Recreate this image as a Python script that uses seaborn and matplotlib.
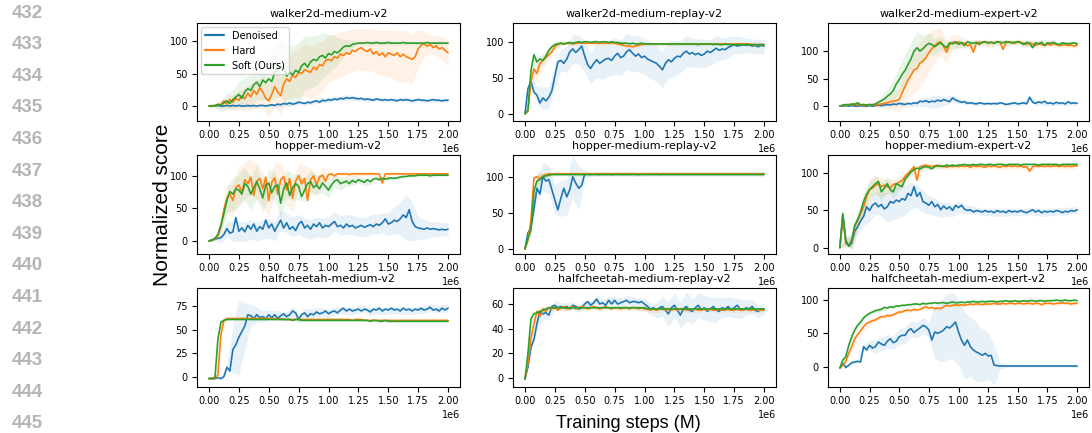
import numpy as np
import matplotlib
matplotlib.use("Agg")
import matplotlib.pyplot as plt
import seaborn as sns

# ---------------- data ----------------
TITLES = ["walker2d-medium-v2", "walker2d-medium-replay-v2", "walker2d-medium-expert-v2",
          "hopper-medium-v2", "hopper-medium-replay-v2", "hopper-medium-expert-v2",
          "halfcheetah-medium-v2", "halfcheetah-medium-replay-v2", "halfcheetah-medium-expert-v2"]
METHODS = ["Denoised", "Hard", "Soft (Ours)"]
LINE_NUMBERS = [432, 433, 434, 435, 436, 437, 438, 439, 440, 441, 442, 443, 444, 445]

# walker2d-medium
WM_DEN = [0,0,0,1,0,0,1,0,1,0,1,0,0,1,0,1,0,1,1,0,1,
          2,1,3,2,4,3,5,3,4,6,
          5,4,6,5,7,8,6,9,8,10,
          9,11,10,12,11,13,12,13,12,11,
          12,10,11,10,9,11,10,9,10,9,
          10,9,8,10,9,10,9,8,9,10,
          9,9,8,9,10,9,9,8,9,9]
WM_HARD = [0,1,0,3,2,8,3,10,6,12,9,16,11,20,14,24,18,28,22,12,8,
           18,30,22,16,34,42,38,48,44,52,
           50,56,54,52,60,56,64,62,70,72,
           70,76,74,80,78,82,80,86,84,88,
           90,86,84,88,80,84,78,82,76,82,
           80,78,82,76,80,76,74,72,76,88,
           94,96,92,95,90,93,88,90,86,82]
WM_SOFT = [0,0,1,2,1,5,8,4,10,14,18,12,22,27,24,33,37,30,40,36,42,
           38,52,58,60,59,46,52,48,55,52,
           62,66,60,68,72,70,76,78,74,81,
           79,84,82,86,91,93,92,95,96,97,
           97,97,98,97,97,98,97,97,97,98,
           97,97,97,97,98,97,97,97,97,97,
           97,97,98,97,97,97,97,97,97,97]
WM_DEN_SD = [1,1,1,1,1,1,1,2,2,2,2, 3,3,3,3,3,3,3,4,4,4, 4,4,4,4,3,3,3,3,3,3, 3,3,3,3,3,3,3,3,3,3]
WM_HARD_SD = [1,2,6,10,12,15,18,20,22,25,25, 28,30,32,35,38,40,40,40,38,36, 35,35,34,33,32,32,33,34,35,36, 38,40,40,38,30,20,15,15,18,20]
WM_SOFT_SD = [1,3,8,12,15,20,22,25,28,30,35, 40,45,48,45,45,42,40,38,35,30, 25,18,10,6,3,3,3,3,3,3, 3,3,3,3,3,3,3,3,3,3]

# walker2d-medium-replay
WR_DEN = [0,35,45,30,26,15,22,18,23,32,52,72,74,70,76,86,90,85,89,94,80,
          68,63,70,75,70,73,76,77,74,80,
          84,78,80,86,89,84,80,83,78,80,
          76,74,72,70,66,61,70,75,72,77,
          80,79,84,87,83,85,82,84,81,83,
          87,85,88,91,88,90,89,92,94,96,
          94,95,96,95,96,94,95,93,95,94]
WR_HARD = [0,3,45,62,56,70,74,78,82,86,93,96,98,97,98,98,97,98,98,98,98,
           98,98,98,98,98,98,98,98,98,98,
           97,96,95,94,94,93,94,95,96,97,
           97,97,97,97,97,97,97,97,97,97,
           97,97,97,97,97,97,97,97,97,97,
           97,97,97,97,97,97,97,97,97,97,
           97,97,97,97,97,96,96,96,96,96]
WR_SOFT = [0,5,60,82,72,76,74,80,88,93,96,97,98,97,98,99,98,99,100,99,100,
           100,99,100,100,99,100,100,99,100,99,
           99,98,98,98,97,98,97,97,98,97,
           97,97,97,97,97,97,97,97,97,97,
           97,97,97,97,97,97,97,96,97,97,
           97,97,96,97,96,96,97,96,96,96,
           96,96,96,96,96,96,96,96,96,96]
WR_DEN_SD = [0,10,12,15,15,15,15,18,20,20,22, 22,25,25,25,25,25,25,25,25,25, 25,25,25,25,25,22,22,20,20,20, 18,18,15,15,12,12,10,10,10,10]
WR_HARD_SD = [0,5,10,10,8,5,3,2,2,2,2, 2,2,2,2,2,2,2,2,2,2, 2,2,2,2,2,2,2,2,2,2, 2,2,2,2,2,2,2,2,2,2]
WR_SOFT_SD = [0,5,8,8,6,4,3,2,2,2,2, 2,2,2,2,2,2,2,2,2,2, 2,2,2,2,2,2,2,2,2,2, 2,2,2,2,2,2,2,2,2,2]

# walker2d-medium-expert
WE_DEN = [0,0,1,0,1,0,0,1,0,0,1,0,1,2,1,2,3,2,4,3,5,
          4,3,5,4,6,5,9,8,10,7,
          9,8,11,9,12,10,8,15,11,9,
          7,8,5,6,5,4,6,5,4,5,
          4,5,4,6,5,3,4,5,6,4,
          5,6,4,16,7,5,8,6,9,5,
          6,4,7,5,6,4,8,5,6,5]
WE_HARD = [0,1,2,3,2,4,2,3,1,2,2,3,2,3,4,5,6,8,9,10,12,
           24,36,48,56,66,68,78,82,88,97,
           104,110,115,117,108,98,112,116,114,117,
           113,115,110,112,98,114,116,115,117,114,
           116,115,117,116,103,115,117,116,114,117,
           116,114,112,115,113,110,114,112,110,113,
           111,113,112,110,111,112,110,111,109,111]
WE_SOFT = [0,2,3,2,4,3,6,2,3,2,3,2,4,7,10,13,18,22,28,40,48,
           58,65,76,86,100,106,100,104,110,114,
           112,108,112,115,110,106,115,113,117,112,
           116,110,117,115,114,116,112,116,117,115,
           116,114,117,116,115,117,116,115,116,117,
           115,112,116,114,106,115,113,116,110,115,
           114,116,113,112,115,114,113,114,115,113]
WE_DEN_SD = [1,1,1,1,1,1,2,3,3,4,4, 5,5,6,8,10,12,10,8,6,5, 4,4,3,3,3,3,3,3,3,3, 4,4,4,4,4,3,3,3,3,3]
WE_HARD_SD = [1,2,3,3,3,3,4,6,10,15,22, 30,35,40,40,35,30,25,20,15,12, 8,8,6,6,8,6,5,5,5,5, 6,6,6,6,6,5,5,5,5,5]
WE_SOFT_SD = [1,2,3,3,3,3,4,8,15,20,25, 30,30,30,25,20,15,12,10,8,6, 5,5,4,4,4,4,4,4,4,4, 5,5,5,5,5,4,4,4,4,4]

# hopper-medium
HM_DEN = [0,2,3,4,5,10,19,12,14,36,15,20,14,24,18,26,15,22,18,32,20,
          26,15,24,32,20,28,18,22,16,26,
          30,20,24,18,26,22,28,20,24,22,
          26,30,22,24,20,26,22,24,20,22,
          24,21,23,25,22,26,24,28,34,26,
          28,32,30,34,40,36,48,30,22,20,
          19,18,20,18,19,18,17,18,17,18]
HM_HARD = [0,1,3,8,22,48,66,72,62,82,86,74,94,88,98,70,92,96,80,98,62,
           90,97,72,94,99,78,96,66,92,100,
           88,96,62,94,100,86,98,101,92,102,
           103,100,103,103,103,103,102,103,103,103,
           103,103,103,103,103,103,103,89,103,103,
           103,103,103,103,103,103,103,103,103,103,
           103,103,103,103,103,103,103,103,103,103]
HM_SOFT = [0,1,4,10,24,42,62,76,72,80,78,72,88,84,72,82,91,80,66,86,89,
           74,84,86,58,80,89,70,82,88,84,
           68,78,88,91,82,86,80,89,84,78,
           86,92,94,88,90,92,88,93,90,94,
           92,90,94,91,95,96,94,96,95,96,
           97,96,97,98,99,99,100,100,100,101,
           101,101,101,100,101,101,101,101,101,101]
HM_DEN_SD = [0,3,8,12,15,15,15,15,15,15,15, 15,15,15,15,15,15,15,15,15,15, 15,15,15,15,15,15,15,15,15,18, 20,25,35,30,18,15,12,12,10,10]
HM_HARD_SD = [0,3,10,20,25,28,28,28,28,25,25, 25,25,22,22,20,20,18,15,12,8, 4,3,3,3,3,3,3,3,3,3, 2,2,2,2,2,2,2,2,2,2]
HM_SOFT_SD = [0,3,10,20,25,25,25,25,25,22,22, 22,22,22,20,20,18,18,15,15,12, 10,10,8,8,6,6,5,4,3,3, 3,3,2,2,2,2,2,2,2,2]

# hopper-medium-replay
HR_DEN = [0,22,30,55,84,76,100,94,96,82,68,54,70,84,72,82,100,91,84,88,104,
          104,103,104,104,103,104,104,104,103,104,
          104,104,103,104,104,104,104,103,104,104,
          104,104,104,104,103,104,104,104,104,104,
          104,104,104,104,104,104,104,104,104,104,
          104,104,104,104,104,104,104,104,104,104,
          104,104,104,104,104,104,104,104,104,104]
HR_HARD = [0,12,40,98,100,97,101,103,104,104,104,104,104,104,104,104,104,104,104,104,104,
           104,104,104,104,104,104,104,104,104,104,
           104,104,104,104,104,104,104,104,104,104,
           104,104,104,104,104,104,104,104,104,104,
           104,104,104,104,104,104,104,104,104,104,
           104,104,104,104,104,104,104,104,104,104,
           104,104,104,104,104,104,104,104,104,104]
HR_SOFT = [0,15,26,80,94,96,100,101,102,103,103,103,103,103,103,103,103,103,103,103,103,
           103,103,103,103,103,103,103,103,103,103,
           103,103,103,103,103,103,103,103,103,103,
           103,103,103,103,103,103,103,103,103,103,
           103,103,103,103,103,103,103,103,103,103,
           103,103,103,103,103,103,103,103,103,103,
           103,103,103,103,103,103,103,103,103,103]
HR_DEN_SD = [0,10,15,20,20,20,25,25,30,30,5, 3,3,3,3,3,3,3,3,3,3, 3,3,3,3,3,3,3,3,3,3, 3,3,3,3,3,3,3,3,3,3]
HR_HARD_SD = [0,10,8,4,2,2,2,2,2,2,2, 2,2,2,2,2,2,2,2,2,2, 2,2,2,2,2,2,2,2,2,2, 2,2,2,2,2,2,2,2,2,2]
HR_SOFT_SD = [0,8,10,5,3,2,2,2,2,2,2, 2,2,2,2,2,2,2,2,2,2, 2,2,2,2,2,2,2,2,2,2, 2,2,2,2,2,2,2,2,2,2]

# hopper-medium-expert
HE_DEN = [0,44,10,2,6,22,28,36,42,55,50,57,60,55,58,52,55,62,60,64,62,
          66,64,73,70,82,69,74,62,60,57,
          62,55,58,51,56,52,55,50,57,54,
          57,52,50,51,48,50,49,48,50,48,
          49,47,50,48,49,47,50,48,49,48,
          50,48,47,49,51,48,50,47,49,48,
          49,48,50,49,47,49,48,50,49,51]
HE_HARD = [0,40,6,3,8,28,36,46,55,68,78,80,84,86,82,84,82,80,85,86,88,
           90,96,100,104,109,91,109,110,111,110,
           109,110,111,109,110,108,110,109,110,109,
           110,109,110,108,110,109,110,109,108,110,
           109,110,109,108,110,109,110,109,110,109,
           110,108,109,103,109,110,109,110,109,110,
           109,110,110,109,110,109,110,109,110,110]
HE_SOFT = [0,46,8,2,10,30,38,48,62,72,78,82,86,89,75,80,86,78,75,86,84,
           82,92,97,102,105,107,106,108,109,108,
           106,109,110,110,109,111,110,111,110,111,
           111,112,111,111,112,111,112,112,111,112,
           112,111,112,112,112,111,112,112,112,112,
           111,112,112,112,112,112,111,112,112,112,
           112,112,112,111,112,112,112,112,112,112]
HE_DEN_SD = [0,5,8,10,12,15,15,15,20,22,22, 20,18,15,15,12,12,10,10,8,8, 6,6,5,5,5,5,5,5,5,5, 5,5,5,5,5,5,5,5,5,5]
HE_HARD_SD = [0,5,10,10,12,12,12,12,10,8,8, 6,5,4,4,3,3,3,3,3,3, 3,3,3,3,3,3,3,3,3,3, 3,3,3,3,3,3,3,3,3,3]
HE_SOFT_SD = [0,5,10,10,12,12,12,12,10,8,8, 6,5,4,4,3,3,3,3,3,3, 2,2,2,2,2,2,2,2,2,2, 2,2,2,2,2,2,2,2,2,2]

# halfcheetah-medium
CM_DEN = [-2,-2,-2,-1,-2,0,10,6,29,34,42,48,54,66,65,62,66,63,64,62,66,
          63,66,62,65,67,64,66,70,68,61,
          66,68,64,67,66,69,67,68,70,67,
          69,70,68,71,73,70,72,70,71,72,
          70,72,71,69,72,71,73,70,72,71,
          73,71,72,70,73,71,72,70,72,71,
          73,71,72,74,71,72,70,73,71,73]
CM_HARD = [-2,-2,-2,2,45,60,62,62,62,62,62,62,62,62,62,62,62,62,62,62,62,
           62,62,61,62,61,61,61,61,61,61,
           61,61,61,61,61,61,61,61,61,61,
           61,61,61,61,61,61,61,60,61,61,
           61,60,60,60,60,60,60,60,60,60,
           60,60,60,60,60,60,60,60,60,60,
           60,60,60,60,60,60,60,60,60,60]
CM_SOFT = [-2,-2,-1,40,58,60,61,61,61,61,61,61,61,61,61,61,61,61,61,61,61,
           61,61,61,61,61,61,61,60,61,61,
           60,60,60,60,60,60,60,60,60,60,
           60,60,60,60,60,60,60,60,60,60,
           60,60,60,59,60,60,59,59,60,59,
           59,59,59,59,59,59,59,59,59,59,
           59,59,59,59,59,59,59,59,59,59]
CM_DEN_SD = [1,1,1,3,25,40,25,12,8,6,5, 5,5,5,5,5,5,5,5,5,5, 4,4,4,4,4,4,4,4,4,4, 4,4,4,4,4,4,4,4,4,4]
CM_HARD_SD = [1,1,3,1,1,1,1,1,1,1,1, 1,1,1,1,1,1,1,1,1,1, 1,1,1,1,1,1,1,1,1,1, 1,1,1,1,1,1,1,1,1,1]
CM_SOFT_SD = [1,2,3,1,1,1,1,1,1,1,1, 1,1,1,1,1,1,1,1,1,1, 1,1,1,1,1,1,1,1,1,1, 1,1,1,1,1,1,1,1,1,1]

# halfcheetah-medium-replay
CR_DEN = [-1,9,25,31,44,54,52,53,51,58,59,57,58,57,58,56,59,58,56,57,60,
          62,59,61,64,60,61,59,63,60,63,
          60,61,62,63,61,62,62,61,62,60,
          58,56,57,55,57,58,55,52,57,59,
          55,51,56,58,55,54,57,59,55,57,
          54,56,58,55,54,57,56,58,55,57,
          59,56,55,57,56,58,55,54,56,56]
CR_HARD = [-1,12,32,44,54,50,56,54,57,56,57,55,57,58,56,57,58,56,57,58,57,
           56,57,58,57,56,57,58,57,56,57,
           57,56,57,57,56,57,57,56,57,56,
           56,55,56,55,56,56,55,56,55,56,
           55,56,56,55,56,55,56,55,55,56,
           55,56,55,55,56,55,55,56,55,55,
           56,55,55,56,55,55,56,55,55,55]
CR_SOFT = [-1,20,48,52,53,54,55,56,57,57,57,57,57,57,57,57,57,57,57,57,57,
           57,57,57,57,57,57,57,57,57,57,
           57,57,57,57,57,57,57,57,57,57,
           56,56,56,56,56,56,56,56,56,56,
           56,56,56,56,56,56,56,56,56,56,
           56,56,56,56,56,56,56,56,56,56,
           56,56,56,56,56,56,56,56,56,56]
CR_DEN_SD = [0,5,5,4,4,4,3,3,3,3,3, 3,3,3,3,3,4,4,4,4,5, 5,6,8,10,10,10,12,10,10,10, 10,10,8,8,8,8,6,6,5,5]
CR_HARD_SD = [0,3,3,2,2,2,2,2,2,2,2, 2,2,2,2,2,2,2,2,2,2, 2,2,2,2,2,2,2,2,2,2, 2,2,2,2,2,2,2,2,2,2]
CR_SOFT_SD = [0,3,2,1,1,1,1,1,1,1,1, 1,1,1,1,1,1,1,1,1,1, 1,1,1,1,1,1,1,1,1,1, 1,1,1,1,1,1,1,1,1,1]

# halfcheetah-medium-expert
CE_DEN = [-2,5,-1,2,6,7,8,7,30,25,32,28,30,37,34,32,38,42,36,38,45,
          47,47,54,57,51,55,58,62,60,55,
          40,52,50,52,55,60,58,62,67,52,
          40,32,40,30,25,22,20,17,20,16,
          17,2.5,1.5,1,1,1,1,1,1,1,
          1,1,1,1,1,1,1,1,1,1,
          1,1,1,1,1,1,1,1,1,1]
CE_HARD = [-2,2,8,20,30,42,48,54,60,65,67,69,70,73,75,75,77,76,78,80,82,
           82,84,85,84,86,85,86,88,90,88,
           89,87,88,87,90,92,91,92,93,92,
           93,92,93,94,93,94,94,93,94,94,
           94,95,94,94,95,94,95,95,94,95,
           95,94,95,95,94,95,95,93,95,95,
           95,94,95,95,96,95,95,94,95,95]
CE_SOFT = [-2,10,15,32,45,55,62,67,73,77,80,82,84,85,86,89,88,90,89,91,91,
           92,92,93,93,94,94,93,95,94,95,
           95,96,95,96,96,95,96,97,96,96,
           97,96,97,97,98,97,97,98,97,98,
           98,98,97,98,98,99,98,98,99,98,
           98,99,98,99,99,98,99,99,98,99,
           99,99,100,99,99,100,99,99,100,99]
CE_DEN_SD = [0,2,2,3,4,8,10,10,10,10,12, 12,12,12,12,12,40,45,50,50,50, 50,45,45,40,35,30,5,2,2,2, 2,2,2,2,2,2,2,2,2,2]
CE_HARD_SD = [0,3,5,6,5,4,4,3,3,3,3, 3,2,2,2,2,2,2,2,2,2, 2,2,2,2,2,2,2,2,2,2, 2,2,2,2,2,2,2,2,2,2]
CE_SOFT_SD = [0,3,5,5,4,3,3,3,2,2,2, 2,2,2,2,2,2,2,2,2,2, 2,2,2,2,2,2,2,2,2,2, 2,2,2,2,2,2,2,2,2,2]

STEPS = np.linspace(0, 2e6, 81)
BAND_STEPS = STEPS[::2]

PANELS = [
    (WM_DEN, WM_HARD, WM_SOFT, WM_DEN_SD, WM_HARD_SD, WM_SOFT_SD),
    (WR_DEN, WR_HARD, WR_SOFT, WR_DEN_SD, WR_HARD_SD, WR_SOFT_SD),
    (WE_DEN, WE_HARD, WE_SOFT, WE_DEN_SD, WE_HARD_SD, WE_SOFT_SD),
    (HM_DEN, HM_HARD, HM_SOFT, HM_DEN_SD, HM_HARD_SD, HM_SOFT_SD),
    (HR_DEN, HR_HARD, HR_SOFT, HR_DEN_SD, HR_HARD_SD, HR_SOFT_SD),
    (HE_DEN, HE_HARD, HE_SOFT, HE_DEN_SD, HE_HARD_SD, HE_SOFT_SD),
    (CM_DEN, CM_HARD, CM_SOFT, CM_DEN_SD, CM_HARD_SD, CM_SOFT_SD),
    (CR_DEN, CR_HARD, CR_SOFT, CR_DEN_SD, CR_HARD_SD, CR_SOFT_SD),
    (CE_DEN, CE_HARD, CE_SOFT, CE_DEN_SD, CE_HARD_SD, CE_SOFT_SD),
]

# ---------------- style / layout ----------------
COLORS = ["#1f77b4", "#ff7f0e", "#2ca02c"]
YLIMS = [(-23, 128), (-10, 126), (-27, 151),
         (-20, 132), (-7, 130), (-8.5, 124.6),
         (-11, 94.5), (-7.3, 73), (-30.5, 118)]
YTICKS = [[0, 50, 100]] * 6 + [[0, 25, 50, 75], [0, 20, 40, 60], [0, 50, 100]]
COL_L = [197, 513, 828]
COL_W = [263, 263, 261]
ROW_T = [23, 155, 288]
ROW_B = [121, 254, 387]
W, H = 1092, 433

sns.set_style("ticks", {"axes.edgecolor": "black", "xtick.color": "black",
                        "ytick.color": "black", "text.color": "black"})
plt.rcParams["font.family"] = ["DejaVu Sans"]

fig = plt.figure(figsize=(W / 100, H / 100), dpi=100)

for k, (title, panel) in enumerate(zip(TITLES, PANELS)):
    r, c = divmod(k, 3)
    ax = fig.add_axes([COL_L[c] / W, 1 - ROW_B[r] / H, COL_W[c] / W, (ROW_B[r] - ROW_T[r]) / H])
    means = [np.asarray(v, float) for v in panel[:3]]
    sds = [np.asarray(v, float) for v in panel[3:]]
    for m, s, col in zip(means, sds, COLORS):
        ax.fill_between(BAND_STEPS, m[::2] - s, m[::2] + s, color=col, alpha=0.1, linewidth=0)
    for m, col, lab in zip(means, COLORS, METHODS):
        sns.lineplot(x=STEPS, y=m, ax=ax, color=col, linewidth=1.2, errorbar=None,
                     label=lab if k == 0 else None, legend=False)
    ax.set_xlim(-0.1e6, 2.1e6)
    ax.set_xticks(np.arange(0, 2.0e6 + 1, 0.25e6))
    ax.set_ylim(*YLIMS[k])
    ax.set_yticks(YTICKS[k])
    ax.set_xlabel("")
    ax.set_ylabel("")
    ax.tick_params(labelsize=7, length=3.5, width=0.8, pad=3)
    ax.xaxis.get_offset_text().set_fontsize(7)
    for sp in ax.spines.values():
        sp.set_linewidth(0.8)
    ax.set_title(title, fontsize=8, pad=4)
    if k == 0:
        leg = ax.legend(loc="upper left", fontsize=7, frameon=True, borderaxespad=0.4)
        for ln in leg.get_lines():
            ln.set_linewidth(1.6)

fig.text(162 / W, 1 - 205 / H, "Normalized score", rotation=90, ha="center", va="center",
         fontsize=15, family="Liberation Sans")
fig.text(628 / W, 1 - 423 / H, "Training steps (M)", ha="center", va="center",
         fontsize=13, family="Liberation Sans")

for i, n in enumerate(LINE_NUMBERS):
    fig.text(43 / W, 1 - (13 + i * 31.6) / H, str(n), ha="right", va="center",
             fontsize=13.5, fontweight="bold", color="#b5b5b5", family="Liberation Sans")

fig.savefig("out.png", dpi=100)
